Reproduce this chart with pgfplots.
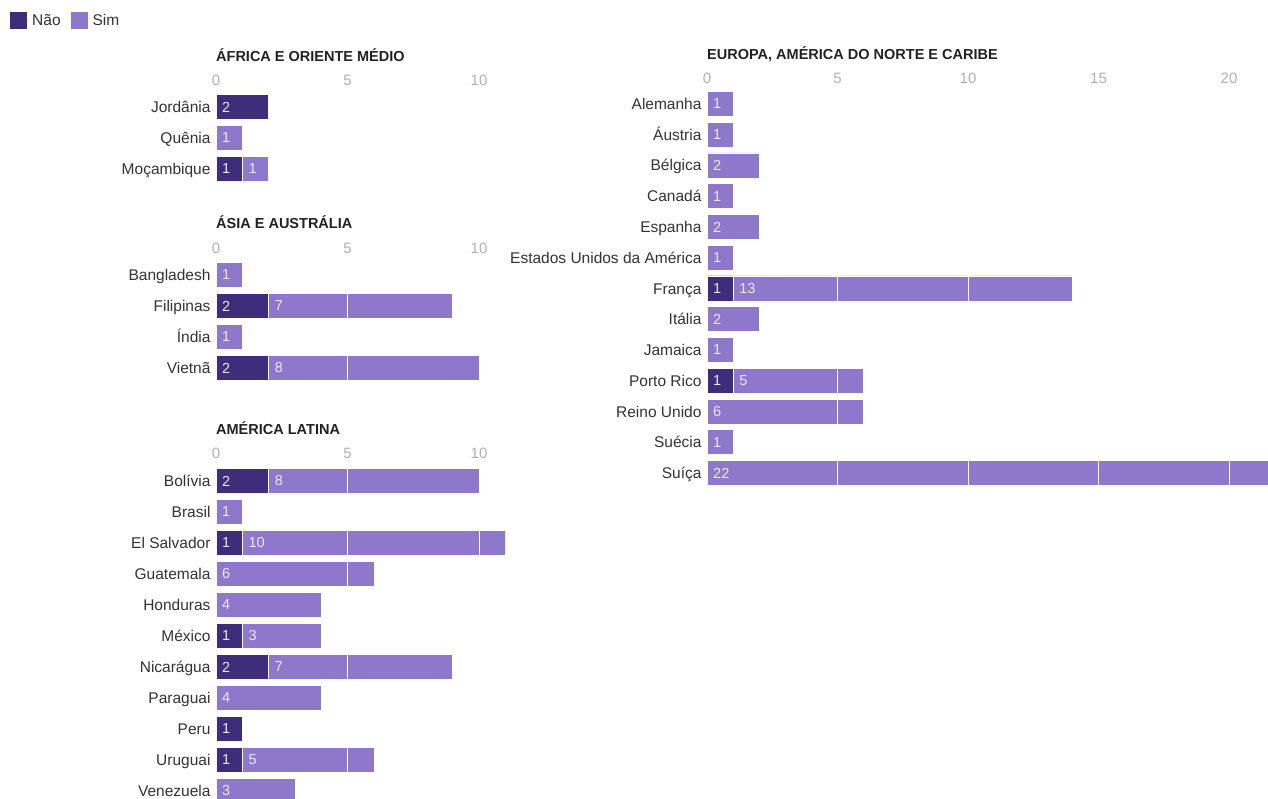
\documentclass[border=0pt]{standalone}
\usepackage{fontspec}
\setmainfont{Liberation Sans}
\usepackage{pgfplots}
\usepackage{pgfplotstable}
\pgfplotsset{compat=1.18}
\definecolor{nao}{HTML}{3E2D7B}
\definecolor{sim}{HTML}{8E78CC}
\definecolor{lbl}{HTML}{ECE8F8}
\definecolor{tickc}{HTML}{B0B0B0}
\definecolor{txt}{HTML}{333333}
\definecolor{ttl}{HTML}{222222}

\pgfplotstableread[col sep=comma]{
r,name,nao,sim
0,Jordânia,2,0
1,Quênia,0,1
2,Moçambique,1,1
}\tA
\pgfplotstableread[col sep=comma]{
r,name,nao,sim
0,Bangladesh,0,1
1,Filipinas,2,7
2,Índia,0,1
3,Vietnã,2,8
}\tB
\pgfplotstableread[col sep=comma]{
r,name,nao,sim
0,Bolívia,2,8
1,Brasil,0,1
2,El Salvador,1,10
3,Guatemala,0,6
4,Honduras,0,4
5,México,1,3
6,Nicarágua,2,7
7,Paraguai,0,4
8,Peru,1,0
9,Uruguai,1,5
10,Venezuela,0,3
}\tC
\pgfplotstableread[col sep=comma]{
r,name,nao,sim
0,Alemanha,0,1
1,Áustria,0,1
2,Bélgica,0,2
3,Canadá,0,1
4,Espanha,0,2
5,Estados Unidos da América,0,1
6,França,1,13
7,Itália,0,2
8,Jamaica,0,1
9,Porto Rico,1,5
10,Reino Unido,0,6
11,Suécia,0,1
12,Suíça,0,22
}\tD

\pgfplotsset{
  panel/.style={
    scale only axis, anchor=north west, y dir=reverse, xmin=0, ymin=-0.5,
    axis line style={draw=none}, major tick length=0pt, tick style={draw=none},
    xticklabel pos=upper, xmajorgrids, grid style={white, line width=0.8pt},
    axis on top, enlargelimits=false, bar width=25pt,
    /pgf/number format/assume math mode=true,
    xticklabel style={font=\fontsize{15}{15}\selectfont, text=tickc, anchor=base},
    yticklabel style={font=\fontsize{15.5}{15.5}\selectfont, text=txt,
      anchor=base east, yshift=-5.5pt, xshift=-2pt},
    title style={at={(0,1)}, anchor=base west, inner sep=0pt,
      font=\bfseries\fontsize{14.5}{14.5}\selectfont, text=ttl},
  },
  barsim/.style={xbar, bar shift=0pt, fill=sim, draw=white, line width=0.6pt, forget plot},
  barnao/.style={xbar, bar shift=0pt, fill=nao, draw=white, line width=0.6pt, forget plot},
  labels/.style={xbar, bar shift=0pt, draw=none, fill=none, forget plot,
    nodes near coords, point meta=explicit symbolic,
    every node near coord/.style={anchor=west, inner sep=0pt, xshift=6pt,
      font=\fontsize{14.5}{14.5}\selectfont, text=lbl}},
}

\newcommand{\panelplots}[1]{%
  \addplot[barsim] table[x expr=\thisrow{nao}+\thisrow{sim}, y=r]{#1};
  \addplot[barnao, restrict expr to domain={\thisrow{nao}}{0.5:100}] table[x=nao, y=r]{#1};
  \addplot[labels, restrict expr to domain={\thisrow{nao}}{0.5:100}] table[x expr=0, y=r, meta=nao]{#1};
  \addplot[labels, restrict expr to domain={\thisrow{sim}}{0.5:100}] table[x=nao, y=r, meta=sim]{#1};
}

\begin{document}
\begin{tikzpicture}
\path[use as bounding box] (0pt,0pt) rectangle (1268pt,798pt);

% Africa
\begin{axis}[panel, at={(216pt,706.5pt)}, width=289.3pt, height=93pt,
  xmax=11, ymax=2.5, xtick={0,5,10}, ytick={0,1,2},
  yticklabels from table={\tA}{name},
  title={ÁFRICA E ORIENTE MÉDIO}, title style={yshift=23.5pt},
  xticklabel style={yshift=6pt},
  legend columns=2,
  legend style={at={(-0.712,1.763)}, anchor=west, draw=none, fill=none,
    inner sep=0pt, font=\fontsize{15.5}{15.5}\selectfont, text=txt,
    /tikz/every even column/.append style={column sep=8pt}},
  legend image code/.code={\path (0pt,0pt) -- (20pt,0pt);\fill[#1, draw=none] (0pt,-8.5pt) rectangle (17pt,8.5pt);}]
\addlegendimage{fill=nao, draw=none}\addlegendentry{Não}
\addlegendimage{fill=sim, draw=none}\addlegendentry{Sim}
\panelplots{\tA}
\end{axis}

% Asia
\begin{axis}[panel, at={(216pt,538.5pt)}, width=289.3pt, height=124pt,
  xmax=11, ymax=3.5, xtick={0,5,10}, ytick={0,1,2,3},
  yticklabels from table={\tB}{name},
  title={ÁSIA E AUSTRÁLIA}, title style={yshift=24.5pt},
  xticklabel style={yshift=6pt}]
\panelplots{\tB}
\end{axis}

% America Latina
\begin{axis}[panel, at={(216pt,332.5pt)}, width=289.3pt, height=341pt,
  xmax=11, ymax=10.5, xtick={0,5,10}, ytick={0,...,10},
  yticklabels from table={\tC}{name},
  title={AMÉRICA LATINA}, title style={yshift=25.5pt},
  xticklabel style={yshift=7pt}]
\panelplots{\tC}
\end{axis}

% Europa
\begin{axis}[panel, at={(707pt,709.375pt)}, width=574.2pt, height=399.75pt,
  xmax=22, ymax=12.5, xtick={0,5,10,15,20}, ytick={0,...,12},
  yticklabels from table={\tD}{name},
  title={EUROPA, AMÉRICA DO NORTE E CARIBE}, title style={yshift=23.6pt},
  xticklabel style={yshift=5pt}]
\panelplots{\tD}
\end{axis}
\end{tikzpicture}
\end{document}
